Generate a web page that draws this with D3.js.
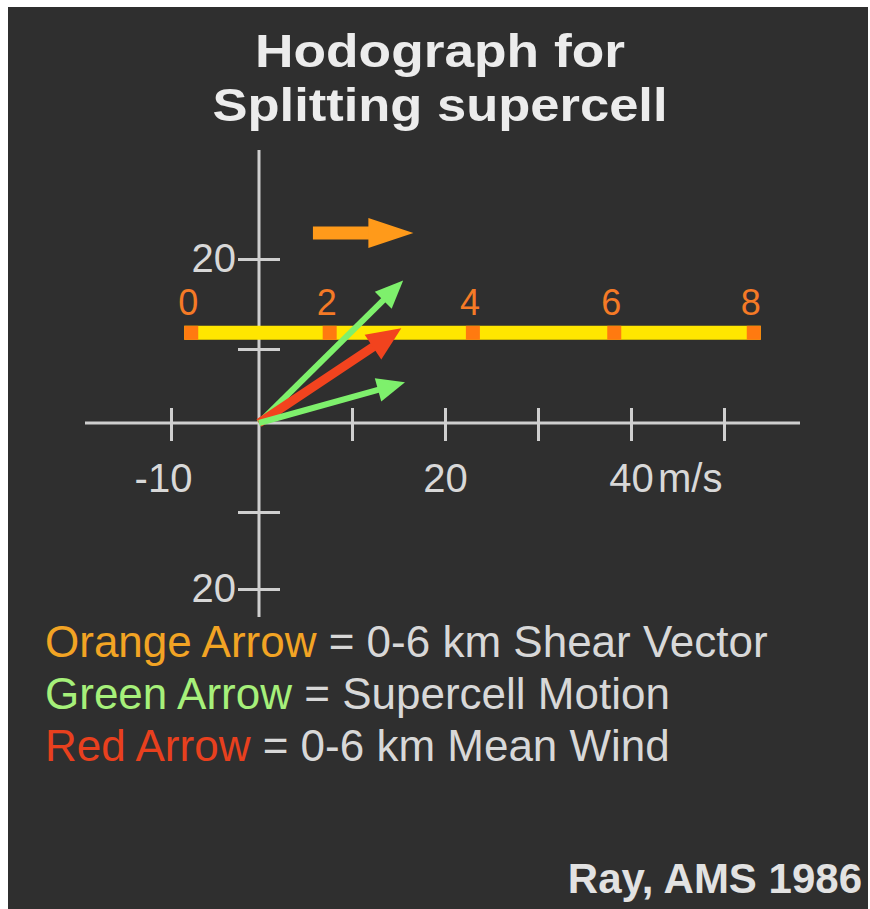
<!doctype html>
<html lang="en">
  <head>
    <meta charset="UTF-8" />
    <title>Hodograph for Splitting supercell</title>
    <style>
      body {
        margin: 0;
        background: #fff;
        overflow: hidden;
      }
      text {
        font-family: "Liberation Sans", Arial, sans-serif;
      }
    </style>
  </head>
  <body>
    <script src="https://cdn.jsdelivr.net/npm/d3@7"></script>
    <script>
      // axis ticks (m/s)
      const xTicks = [-10, 0, 10, 20, 30, 40, 50];
      const xTickLabels = { "-10": "-10", 20: "20", 40: "40" };
      const xUnit = "m/s";
      const yTicks = [-20, -10, 10, 20];
      const yTickLabels = { 20: "20", "-20": "20" };

      // hodograph, height marks in km with wind components (m/s)
      const hodoKm = [0, 2, 4, 6, 8];
      const hodoU = [-7.7, 7.6, 23, 38.2, 53.2];
      const hodoV = [11.8, 11.8, 11.8, 11.8, 11.8];

      // arrows: start and end (u, v) in m/s
      const arrowNames = ["shear", "motionRight", "meanWind", "motionLeft"];
      const arrowU0 = [5.8, 0, 0, 0];
      const arrowV0 = [22.9, 0, 0, 0];
      const arrowU1 = [16.6, 15.5, 15.3, 15.7];
      const arrowV1 = [22.9, 17.6, 12.3, 5.5];

      // legend
      const legendKeys = ["Orange Arrow", "Green Arrow", "Red Arrow"];
      const legendDesc = [
        " = 0-6 km Shear Vector",
        " = Supercell Motion",
        " = 0-6 km Mean Wind",
      ];

      const W = 870,
        H = 909;
      const svg = d3
        .select("body")
        .append("svg")
        .attr("width", W)
        .attr("height", H);

      svg
        .append("rect")
        .attr("x", 8)
        .attr("y", 7)
        .attr("width", 860)
        .attr("height", H - 7)
        .attr("fill", "#2f2f2f");

      // title
      const titleLines = ["Hodograph for", "Splitting supercell"];
      const titleWidths = [370, 455];
      titleLines.forEach((t, i) => {
        svg
          .append("text")
          .attr("x", 440)
          .attr("y", 67 + i * 54)
          .attr("text-anchor", "middle")
          .attr("font-weight", "bold")
          .attr("font-size", 47)
          .attr("textLength", titleWidths[i])
          .attr("lengthAdjust", "spacingAndGlyphs")
          .attr("fill", "#ececec")
          .text(t);
      });

      // scales (the drawn grid is slightly uneven, so piecewise)
      const x = d3.scaleLinear().domain([-10, 0, 50]).range([171, 259, 724]);
      const y = d3
        .scaleLinear()
        .domain([-20, -10, 0, 10, 20])
        .range([589, 512, 423, 349, 259]);

      const axisColor = "#cfcfcf";
      const labelColor = "#d8d8d8";

      // axis lines
      svg
        .append("line")
        .attr("x1", 85)
        .attr("x2", 800)
        .attr("y1", y(0))
        .attr("y2", y(0))
        .attr("stroke", axisColor)
        .attr("stroke-width", 3);
      svg
        .append("line")
        .attr("x1", x(0))
        .attr("x2", x(0))
        .attr("y1", 150)
        .attr("y2", 617)
        .attr("stroke", axisColor)
        .attr("stroke-width", 3);

      // x axis ticks
      const gx = svg
        .append("g")
        .attr("transform", `translate(0,${y(0)})`)
        .call(
          d3
            .axisBottom(x)
            .tickValues(xTicks.filter((d) => d !== 0))
            .tickSize(18)
            .tickFormat((d) => xTickLabels[d] || ""),
        );
      gx.select(".domain").remove();
      gx.selectAll(".tick line")
        .attr("y1", -15)
        .attr("y2", 18)
        .attr("stroke", axisColor)
        .attr("stroke-width", 3);
      gx.selectAll(".tick text")
        .attr("y", 69)
        .attr("dy", 0)
        .attr("dx", (d) => (d < 0 ? -8 : 0))
        .attr("font-size", 40)
        .attr("font-family", "Liberation Sans, Arial, sans-serif")
        .attr("fill", labelColor);

      svg
        .append("text")
        .attr("x", x(40) + 27)
        .attr("y", y(0) + 69)
        .attr("font-size", 40)
        .attr("fill", labelColor)
        .text(xUnit);

      // y axis ticks
      const gy = svg
        .append("g")
        .attr("transform", `translate(${x(0)},0)`)
        .call(
          d3
            .axisLeft(y)
            .tickValues(yTicks)
            .tickSize(21)
            .tickPadding(2)
            .tickFormat((d) => yTickLabels[d] || ""),
        );
      gy.select(".domain").remove();
      gy.selectAll(".tick line")
        .attr("x1", -21)
        .attr("x2", 21)
        .attr("stroke", axisColor)
        .attr("stroke-width", 3);
      gy.selectAll(".tick text")
        .attr("font-size", 40)
        .attr("font-family", "Liberation Sans, Arial, sans-serif")
        .attr("fill", labelColor);

      // hodograph bar
      const hodo = hodoKm.map((k, i) => ({ km: k, u: hodoU[i], v: hodoV[i] }));
      svg
        .append("path")
        .datum(hodo)
        .attr(
          "d",
          d3
            .line()
            .x((d) => x(d.u))
            .y((d) => y(d.v)),
        )
        .attr("fill", "none")
        .attr("stroke", "#ffe600")
        .attr("stroke-width", 14)
        .attr("stroke-linecap", "square");

      svg
        .selectAll(".kmmark")
        .data(hodo)
        .enter()
        .append("rect")
        .attr("class", "kmmark")
        .attr("x", (d) => x(d.u) - 7)
        .attr("y", (d) => y(d.v) - 7)
        .attr("width", 14)
        .attr("height", 14)
        .attr("fill", "#ff7a10");

      svg
        .selectAll(".kmlabel")
        .data(hodo)
        .enter()
        .append("text")
        .attr("class", "kmlabel")
        .attr("x", (d) => x(d.u) - 3)
        .attr("y", (d) => y(d.v) - 18)
        .attr("text-anchor", "middle")
        .attr("font-size", 36)
        .attr("fill", "#f57a26")
        .text((d) => d.km);

      // arrows
      const arrowStyle = {
        shear: { color: "#ff9a1a", w: 13, headLen: 45, headW: 30 },
        motionRight: { color: "#7ef06c", w: 6, headLen: 28, headW: 24 },
        meanWind: { color: "#f2431e", w: 9, headLen: 34, headW: 30 },
        motionLeft: { color: "#7ef06c", w: 6, headLen: 28, headW: 24 },
      };
      const arrows = arrowNames.map((n, i) => ({
        name: n,
        x0: x(arrowU0[i]),
        y0: y(arrowV0[i]),
        x1: x(arrowU1[i]),
        y1: y(arrowV1[i]),
      }));

      const ag = svg
        .selectAll(".arrow")
        .data(arrows)
        .enter()
        .append("g")
        .attr("class", "arrow");

      ag.append("line")
        .attr("x1", (d) => d.x0)
        .attr("y1", (d) => d.y0)
        .attr("x2", (d) => {
          const s = arrowStyle[d.name];
          const len = Math.hypot(d.x1 - d.x0, d.y1 - d.y0);
          return d.x1 - ((d.x1 - d.x0) / len) * s.headLen * 0.8;
        })
        .attr("y2", (d) => {
          const s = arrowStyle[d.name];
          const len = Math.hypot(d.x1 - d.x0, d.y1 - d.y0);
          return d.y1 - ((d.y1 - d.y0) / len) * s.headLen * 0.8;
        })
        .attr("stroke", (d) => arrowStyle[d.name].color)
        .attr("stroke-width", (d) => arrowStyle[d.name].w);

      ag.append("path")
        .attr("d", (d) => {
          const s = arrowStyle[d.name];
          return `M0,0 L${-s.headLen},${-s.headW / 2} L${-s.headLen},${s.headW / 2} Z`;
        })
        .attr("transform", (d) => {
          const a = (Math.atan2(d.y1 - d.y0, d.x1 - d.x0) * 180) / Math.PI;
          return `translate(${d.x1},${d.y1}) rotate(${a})`;
        })
        .attr("fill", (d) => arrowStyle[d.name].color);

      // legend
      const legendColors = ["#f2a424", "#a6f07a", "#e8401e"];
      legendKeys.forEach((k, i) => {
        const t = svg
          .append("text")
          .attr("x", 45)
          .attr("y", 657 + i * 52)
          .attr("font-size", 44);
        t.append("tspan").attr("fill", legendColors[i]).text(k);
        t.append("tspan").attr("fill", labelColor).text(legendDesc[i]);
      });

      // source
      svg
        .append("text")
        .attr("x", 862)
        .attr("y", 893)
        .attr("text-anchor", "end")
        .attr("font-weight", "bold")
        .attr("font-size", 42)
        .attr("fill", "#e2e2e2")
        .text("Ray, AMS 1986");
    </script>
  </body>
</html>
